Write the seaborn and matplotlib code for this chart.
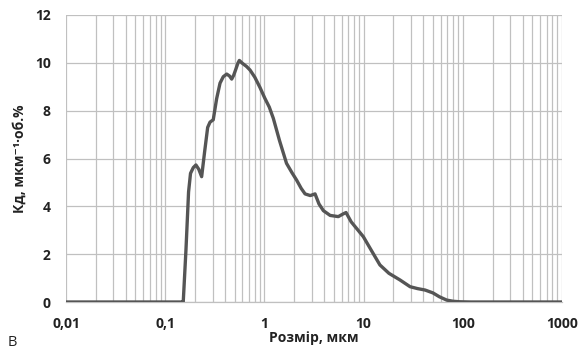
import matplotlib
matplotlib.use("Agg")
import matplotlib.pyplot as plt
from matplotlib.ticker import LogLocator, FixedLocator, NullFormatter
import seaborn as sns
import pandas as pd

# Particle size distribution (size in µm, differential volume %)
size_um = [0.01, 0.05, 0.1, 0.145, 0.152, 0.162, 0.172, 0.180, 0.192, 0.204, 0.218,
           0.233, 0.250, 0.268, 0.283, 0.305, 0.330, 0.357, 0.385, 0.417, 0.445,
           0.468, 0.490, 0.512, 0.540, 0.559, 0.600, 0.660, 0.716, 0.800, 0.900,
           1.01, 1.12, 1.23, 1.42, 1.67, 1.90, 2.11, 2.35, 2.57, 2.90, 3.24, 3.55,
           3.93, 4.60, 5.56, 6.20, 6.65, 7.50, 8.60, 9.94, 12.0, 14.6, 18.0, 23.3,
           29.4, 35.0, 41.7, 50.0, 58.0, 68.8, 80.0, 93.0, 120.0, 300.0, 1000.0]
kd_pct = [0.0, 0.0, 0.0, 0.0, 0.0, 2.2, 4.6, 5.38, 5.62, 5.73, 5.55,
          5.24, 6.30, 7.30, 7.52, 7.62, 8.50, 9.15, 9.42, 9.53, 9.45,
          9.32, 9.48, 9.70, 9.98, 10.10, 9.98, 9.85, 9.70, 9.40, 8.98,
          8.52, 8.15, 7.68, 6.75, 5.80, 5.40, 5.10, 4.75, 4.52, 4.45, 4.52, 4.10,
          3.82, 3.62, 3.57, 3.68, 3.74, 3.35, 3.05, 2.73, 2.15, 1.55, 1.20, 0.92,
          0.64, 0.56, 0.50, 0.38, 0.22, 0.08, 0.03, 0.01, 0.0, 0.0, 0.0]

x_ticks = [0.01, 0.1, 1, 10, 100, 1000]
x_tick_labels = ["0,01", "0,1", "1", "10", "100", "1000"]
y_ticks = [0, 2, 4, 6, 8, 10, 12]

df = pd.DataFrame({"size": size_um, "kd": kd_pct})

sns.set_style("white")
plt.rcParams["font.family"] = ["Open Sans", "DejaVu Sans"]

fig = plt.figure(figsize=(5.8, 3.51), dpi=100)
ax = fig.add_axes([66 / 580, 1 - 302 / 351, (562 - 66) / 580, (302 - 15) / 351])

sns.lineplot(data=df, x="size", y="kd", ax=ax, color="#555555", linewidth=2.4,
             zorder=3)

ax.set_xscale("log")
ax.set_xlim(0.01, 1000)
ax.set_ylim(0, 12)

ax.xaxis.set_major_locator(FixedLocator(x_ticks))
ax.set_xticklabels(x_tick_labels)
ax.xaxis.set_minor_locator(LogLocator(base=10, subs=range(2, 10), numticks=20))
ax.xaxis.set_minor_formatter(NullFormatter())
ax.set_yticks(y_ticks)
ax.set_yticklabels([str(v) for v in y_ticks])

grid_kw = dict(color="#c0c0c0", linewidth=0.9)
ax.grid(True, which="major", axis="both", **grid_kw)
ax.grid(True, which="minor", axis="x", **grid_kw)
ax.set_axisbelow(True)

for side in ["top", "right", "left"]:
    ax.spines[side].set_visible(False)
ax.spines["bottom"].set_color("#c0c0c0")
ax.spines["bottom"].set_linewidth(0.9)

ax.tick_params(axis="x", which="major", direction="out", length=5, width=0.9,
               color="#c0c0c0", pad=6, labelsize=10, labelcolor="#222222")
ax.tick_params(axis="x", which="minor", length=0)
ax.tick_params(axis="y", which="major", direction="out", length=5, width=0.9,
               color="#c0c0c0", pad=6, labelsize=10, labelcolor="#222222")
for lbl in ax.get_xticklabels() + ax.get_yticklabels():
    lbl.set_fontweight("bold")

ax.set_xlabel("Розмір, мкм", fontsize=10, fontweight="bold", color="#222222",
              labelpad=0)
ax.set_ylabel("Кд, мкм⁻¹·об.%", fontsize=10, fontweight="bold",
              color="#222222", labelpad=6)

fig.text(8 / 580, 1 - 343 / 351, "В", fontsize=10.5, color="#222222",
         va="center", ha="left")

fig.savefig("out.png", dpi=100, facecolor="white")
